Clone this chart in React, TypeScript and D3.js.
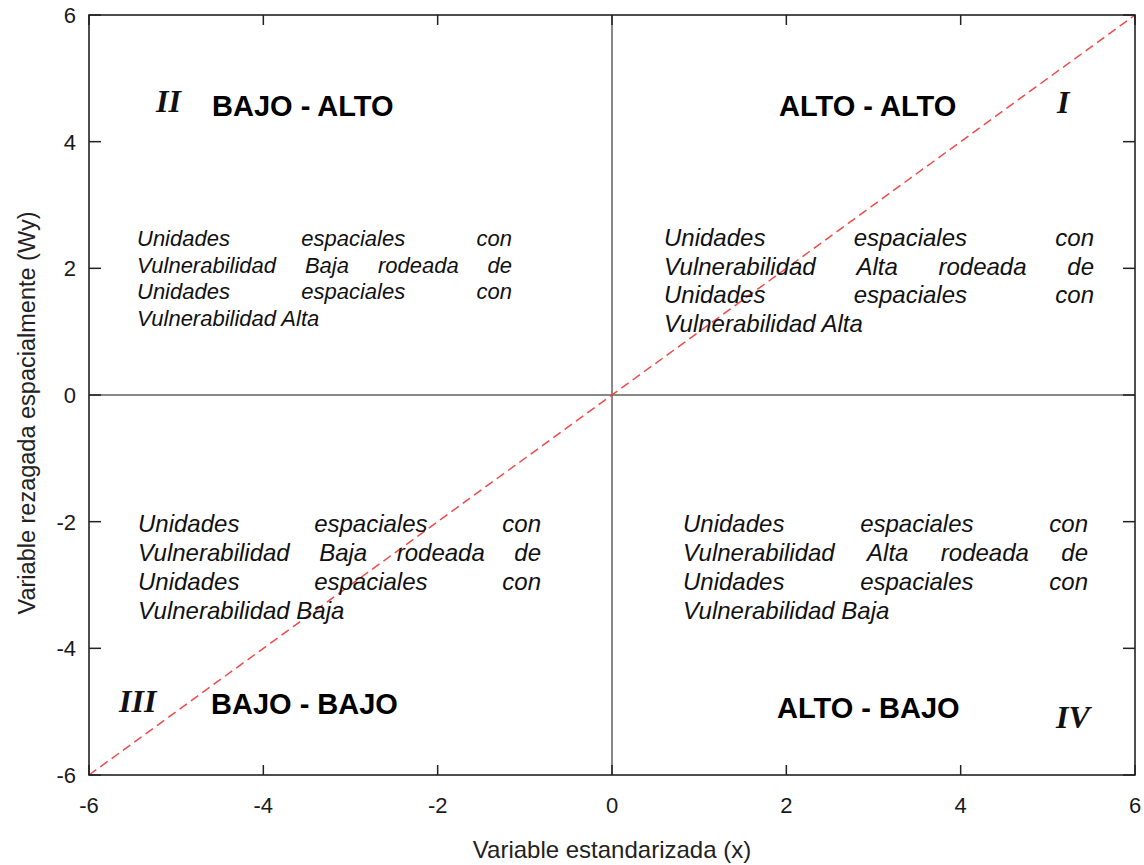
import React from "react";
import * as d3 from "d3";

// axis values
const xTicks = [-6, -4, -2, 0, 2, 4, 6];
const yTicks = [-6, -4, -2, 0, 2, 4, 6];
const xDomain = [-6, 6];
const yDomain = [-6, 6];
const diagonal: [number, number][] = [
  [-6, -6],
  [6, 6],
];

// quadrant labels, order: I, II, III, IV
const quadrantNumerals = ["I", "II", "III", "IV"];
const quadrantNames = ["ALTO - ALTO", "BAJO - ALTO", "BAJO - BAJO", "ALTO - BAJO"];
const quadrantTexts = [
  ["Unidades espaciales con", "Vulnerabilidad Alta rodeada de", "Unidades espaciales con", "Vulnerabilidad Alta"],
  ["Unidades espaciales con", "Vulnerabilidad Baja rodeada de", "Unidades espaciales con", "Vulnerabilidad Alta"],
  ["Unidades espaciales con", "Vulnerabilidad Baja rodeada de", "Unidades espaciales con", "Vulnerabilidad Baja"],
  ["Unidades espaciales con", "Vulnerabilidad Alta rodeada de", "Unidades espaciales con", "Vulnerabilidad Baja"],
];

const xTitle = "Variable estandarizada (x)";
const yTitle = "Variable rezagada espacialmente (Wy)";

const SANS = "'Liberation Sans', Arial, sans-serif";
const SERIF = "'Liberation Serif', 'Times New Roman', serif";

// pixel layout of the annotations
const layout = [
  { numeral: [1057, 113], name: [779, 116], block: { x0: 664, x1: 1094, size: 24, base: [246, 275, 303, 332] } },
  { numeral: [156, 112], name: [212, 116], block: { x0: 137, x1: 512, size: 22, base: [246, 273, 299, 326] } },
  { numeral: [119, 712], name: [211, 714], block: { x0: 138, x1: 541, size: 24, base: [532, 561, 590, 619] } },
  { numeral: [1056, 728], name: [777, 718], block: { x0: 683, x1: 1088, size: 24, base: [532, 561, 590, 619] } },
];

const margins = { top: 15, right: 9, bottom: 90, left: 89 };
const width = 1144;
const height = 865;

let ctx: CanvasRenderingContext2D | null = null;
const measure = (text: string, font: string) => {
  if (!ctx) ctx = document.createElement("canvas").getContext("2d");
  if (!ctx) return text.length * 10;
  ctx.font = font;
  return ctx.measureText(text).width;
};

const JustifiedBlock = ({ lines, block }: { lines: string[]; block: any }) => {
  const font = `italic ${block.size}px ${SANS}`;
  const blockWidth = block.x1 - block.x0;
  return (
    <g fontFamily={SANS} fontStyle="italic" fontSize={block.size} fill="#111">
      {lines.map((line, i) => {
        const words = line.split(" ");
        if (i === lines.length - 1 || words.length < 2) {
          return (
            <text key={i} x={block.x0} y={block.base[i]}>
              {line}
            </text>
          );
        }
        const widths = words.map((w) => measure(w, font));
        const gap = (blockWidth - d3.sum(widths)) / (words.length - 1);
        let cursor = block.x0;
        const xs = widths.map((w) => {
          const x = cursor;
          cursor += w + gap;
          return x;
        });
        return (
          <text key={i} y={block.base[i]}>
            {words.map((w, j) => (
              <tspan key={j} x={xs[j]}>
                {w}
              </tspan>
            ))}
          </text>
        );
      })}
    </g>
  );
};

const App = () => {
  const x = d3.scaleLinear().domain(xDomain).range([margins.left, width - margins.right]);
  const y = d3.scaleLinear().domain(yDomain).range([height - margins.bottom, margins.top]);
  const [x0, x1] = x.range();
  const [y0, y1] = y.range();

  const diagPath = d3
    .line<[number, number]>()
    .x((d) => x(d[0]))
    .y((d) => y(d[1]))(diagonal);

  const tickLen = 12;
  const axisColor = "#222";

  return (
    <div style={{ position: "absolute", left: 0, top: 0 }}>
      <svg width={width} height={height} style={{ display: "block", background: "#fff" }}>
        {/* quadrant divider lines */}
        <line x1={x(0)} x2={x(0)} y1={y1} y2={y0} stroke="#111" strokeWidth={1} />
        <line x1={x0} x2={x1} y1={y(0)} y2={y(0)} stroke="#111" strokeWidth={1} />

        {/* 45 degree reference */}
        <path d={diagPath || ""} fill="none" stroke="#f24a4a" strokeWidth={1.5} strokeDasharray="9,5" />

        {/* frame */}
        <rect x={x0} y={y1} width={x1 - x0} height={y0 - y1} fill="none" stroke={axisColor} strokeWidth={1.6} />

        {/* ticks pointing inwards */}
        {xTicks.map((t) => (
          <g key={`xt${t}`}>
            <line x1={x(t)} x2={x(t)} y1={y0} y2={y0 - 10} stroke={axisColor} strokeWidth={1.5} />
            <line x1={x(t)} x2={x(t)} y1={y1} y2={y1 + 10} stroke={axisColor} strokeWidth={1.5} />
            <text x={x(t)} y={y0 + 38} textAnchor="middle" fontFamily={SANS} fontSize={22} fill="#1a1a1a">
              {t}
            </text>
          </g>
        ))}
        {yTicks.map((t) => (
          <g key={`yt${t}`}>
            <line x1={x0} x2={x0 + tickLen} y1={y(t)} y2={y(t)} stroke={axisColor} strokeWidth={1.5} />
            <line x1={x1} x2={x1 - tickLen} y1={y(t)} y2={y(t)} stroke={axisColor} strokeWidth={1.5} />
            <text x={x0 - 13} y={y(t) + 8} textAnchor="end" fontFamily={SANS} fontSize={22} fill="#1a1a1a">
              {t}
            </text>
          </g>
        ))}

        {/* axis titles */}
        <text x={x(0)} y={858} textAnchor="middle" fontFamily={SANS} fontSize={24} fill="#222">
          {xTitle}
        </text>
        <text
          transform={`translate(35, 413) rotate(-90)`}
          textAnchor="middle"
          fontFamily={SANS}
          fontSize={23.5}
          fill="#222"
        >
          {yTitle}
        </text>

        {/* quadrant annotations */}
        {layout.map((l, i) => (
          <g key={`q${i}`}>
            <text
              x={l.numeral[0]}
              y={l.numeral[1]}
              fontFamily={SERIF}
              fontStyle="italic"
              fontWeight="bold"
              fontSize={32}
              fill="#111"
            >
              {quadrantNumerals[i]}
            </text>
            <text x={l.name[0]} y={l.name[1]} fontFamily={SANS} fontWeight="bold" fontSize={29} fill="#000">
              {quadrantNames[i]}
            </text>
            <JustifiedBlock lines={quadrantTexts[i]} block={l.block} />
          </g>
        ))}
      </svg>
    </div>
  );
};

export default App;
